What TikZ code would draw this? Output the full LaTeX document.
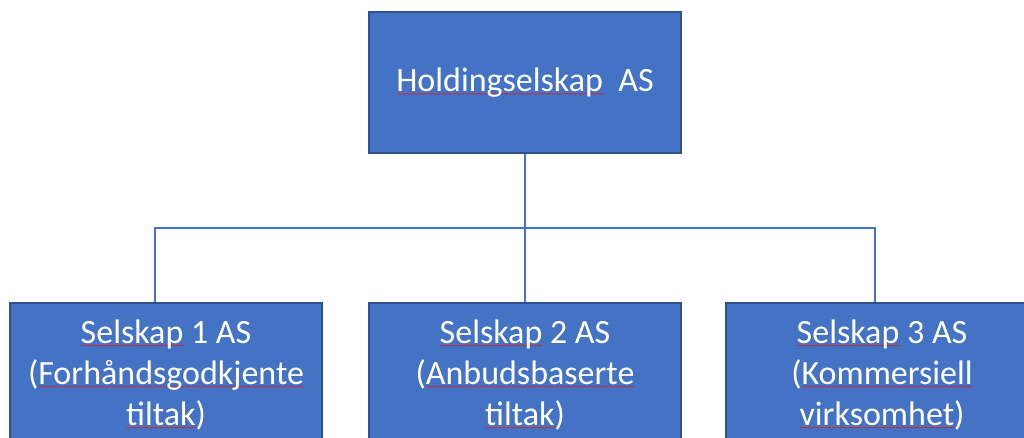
\documentclass[tikz,border=0pt]{standalone}
\usepackage{fontspec}
\setmainfont{Carlito}
\usetikzlibrary{positioning,decorations.pathmorphing}
\definecolor{boxblue}{HTML}{4472C4}
\definecolor{boxedge}{HTML}{2F528F}
\definecolor{spellred}{HTML}{E02020}
\newsavebox{\spellbox}
\newcommand{\spell}[1]{\sbox{\spellbox}{#1}\rlap{\tikz[baseline=0pt]\draw[spellred, line width=0.5pt, decorate, decoration={snake, amplitude=0.5pt, segment length=2.5pt}] (0pt,-2.5pt) -- (\the\wd\spellbox,-2.5pt);}\usebox{\spellbox}}
\tikzset{
    company/.style={draw=boxedge, line width=1.5pt, fill=boxblue, minimum width=312pt, inner sep=0pt},
    boxtext/.style={text=white, align=center, font=\fontsize{34}{41}\selectfont, inner sep=0pt},
    conn/.style={draw=boxblue, line width=2pt}
}

\begin{document}
\begin{tikzpicture}[x=1pt,y=1pt]
    \useasboundingbox (0,0) rectangle (1024,438);
    \clip (0,0) rectangle (1024,438);

    % holding company on top
    \node[company, boxtext, minimum height=141pt] (hold) at (525,355.5) {\spell{Holdingselskap}\ \ AS};

    % the three daughter companies (cut off at the bottom)
    \node[company, minimum height=170pt] (sel1) at (166,50) {};
    \node[company, minimum height=170pt] (sel2) at (525,50) {};
    \node[company, minimum height=170pt] (sel3) at (882,50) {};

    \node[boxtext, anchor=north, below=17pt of sel1.north] (sel1txt) {\spell{Selskap} 1 AS\\(\spell{Forhåndsgodkjente}\\\spell{tiltak})};
    \node[boxtext, anchor=north, below=17pt of sel2.north] (sel2txt) {\spell{Selskap} 2 AS\\(\spell{Anbudsbaserte}\\\spell{tiltak})};
    \node[boxtext, anchor=north, below=17pt of sel3.north] (sel3txt) {\spell{Selskap} 3 AS\\(\spell{Kommersiell}\\\spell{virksomhet})};

    % connectors
    \coordinate (bus) at (525,210);
    \draw[conn] (hold.south) -- (bus);
    \draw[conn] (bus) -| ([xshift=-11pt]sel1.north);
    \draw[conn] (bus) -- (sel2.north);
    \draw[conn] (bus) -| ([xshift=-7pt]sel3.north);
\end{tikzpicture}
\end{document}
